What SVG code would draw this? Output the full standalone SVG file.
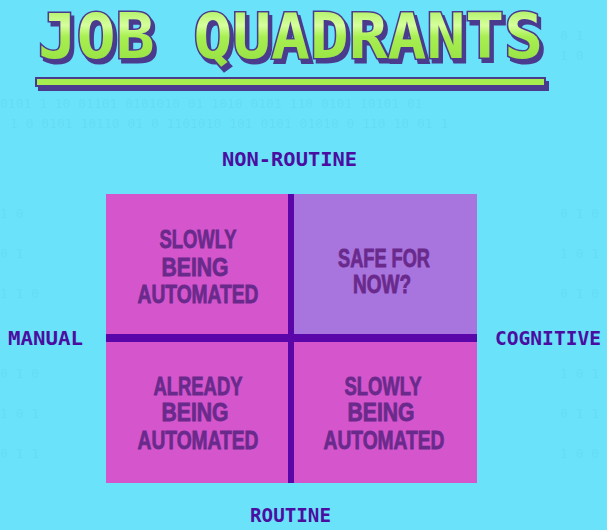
<svg xmlns="http://www.w3.org/2000/svg" width="607" height="530" viewBox="0 0 607 530">
<defs>
<linearGradient id="lime" x1="0" y1="0" x2="0" y2="1">
<stop offset="0" stop-color="#9BE84A"/>
<stop offset="0.35" stop-color="#D6FF9C"/>
<stop offset="0.5" stop-color="#A8F052"/>
<stop offset="1" stop-color="#92DC3E"/>
</linearGradient>
<filter id="shadow" x="-5%" y="-20%" width="110%" height="150%">
<feOffset in="SourceAlpha" dx="3" dy="4" result="off"/>
<feFlood flood-color="#4B3A8F"/>
<feComposite in2="off" operator="in" result="sh"/>
<feMerge><feMergeNode in="sh"/><feMergeNode in="SourceGraphic"/></feMerge>
</filter>
<style>
.bin{font-family:"DejaVu Sans Mono",monospace;font-size:13px;fill:#5CCDE8;opacity:0.3}
.title{font-family:"DejaVu Sans Mono","Liberation Mono",monospace;font-weight:bold;font-size:62px}
.axis{font-family:"DejaVu Sans Mono","Liberation Mono",monospace;font-weight:bold;font-size:20px;fill:#4A0EA0}
.q{font-family:"Liberation Sans",Arial,sans-serif;font-weight:bold;font-size:25px;fill:#6A2A8C;stroke:#6A2A8C;stroke-width:0.8;text-anchor:middle}
</style>
</defs>
<rect width="607" height="530" fill="#6AE2FA"/>
<g id="background-digits">
<text class="bin" x="0" y="108">0101 1 10  01101   0101010  01 1010 0101 110  0101 10101 01</text>
<text class="bin" x="10" y="128">1 0 0101  10110  01 0 1101010 101  0101  01010 0 110 10 01 1</text>
<text class="bin" x="0" y="218">1 0</text><text class="bin" x="560" y="218">0 1 0</text>
<text class="bin" x="0" y="258">0 1</text><text class="bin" x="560" y="258">1 0 1</text>
<text class="bin" x="0" y="298">1 1 0</text><text class="bin" x="560" y="298">0 1 0</text>
<text class="bin" x="0" y="378">0 1 0</text><text class="bin" x="560" y="378">1 0 1</text>
<text class="bin" x="0" y="418">1 0 1</text><text class="bin" x="560" y="418">0 1 1</text>
<text class="bin" x="0" y="458">0 1 1</text><text class="bin" x="560" y="458">1 0 0</text>
<text class="bin" x="560" y="40">0 1</text><text class="bin" x="560" y="60">1 0</text>
</g>
<g id="title" filter="url(#shadow)">
<text class="title" x="38" y="58" textLength="505" lengthAdjust="spacingAndGlyphs" fill="url(#lime)" stroke="#4B3A8F" stroke-width="3" paint-order="stroke">JOB QUADRANTS</text>
<rect x="36" y="78" width="509" height="8" fill="#A6EE50" stroke="#4B3A8F" stroke-width="2"/>
</g>
<g id="axis-labels">
<text id="non-routine" class="axis" x="222" y="166" textLength="135" lengthAdjust="spacingAndGlyphs">NON-ROUTINE</text>
<text id="routine" class="axis" x="250" y="522" textLength="81" lengthAdjust="spacingAndGlyphs">ROUTINE</text>
<text id="manual" class="axis" x="8" y="345" textLength="75" lengthAdjust="spacingAndGlyphs">MANUAL</text>
<text id="cognitive" class="axis" x="495" y="345" textLength="106" lengthAdjust="spacingAndGlyphs">COGNITIVE</text>
</g>
<g id="quadrant-top-left">
<rect x="106" y="194" width="185" height="144" fill="#D556CC"/>
<text class="q" x="198" y="248" textLength="77" lengthAdjust="spacingAndGlyphs">SLOWLY</text>
<text class="q" x="195" y="276" textLength="67" lengthAdjust="spacingAndGlyphs">BEING</text>
<text class="q" x="198" y="303" textLength="121" lengthAdjust="spacingAndGlyphs">AUTOMATED</text>
</g>
<g id="quadrant-top-right">
<rect x="291" y="194" width="186" height="144" fill="#A874DE"/>
<text class="q" x="384" y="267" textLength="92" lengthAdjust="spacingAndGlyphs">SAFE FOR</text>
<text class="q" x="382" y="293" textLength="58" lengthAdjust="spacingAndGlyphs">NOW?</text>
</g>
<g id="quadrant-bottom-left">
<rect x="106" y="338" width="185" height="145" fill="#D556CC"/>
<text class="q" x="198" y="395" textLength="89" lengthAdjust="spacingAndGlyphs">ALREADY</text>
<text class="q" x="195" y="421" textLength="67" lengthAdjust="spacingAndGlyphs">BEING</text>
<text class="q" x="198" y="449" textLength="121" lengthAdjust="spacingAndGlyphs">AUTOMATED</text>
</g>
<g id="quadrant-bottom-right">
<rect x="291" y="338" width="186" height="145" fill="#D556CC"/>
<text class="q" x="383" y="395" textLength="77" lengthAdjust="spacingAndGlyphs">SLOWLY</text>
<text class="q" x="381" y="421" textLength="67" lengthAdjust="spacingAndGlyphs">BEING</text>
<text class="q" x="384" y="449" textLength="121" lengthAdjust="spacingAndGlyphs">AUTOMATED</text>
</g>
<g id="connectors">
<rect x="288" y="194" width="6" height="289" fill="#5A06A8"/>
<rect x="106" y="334" width="371" height="8" fill="#5A06A8"/>
</g>
</svg>
